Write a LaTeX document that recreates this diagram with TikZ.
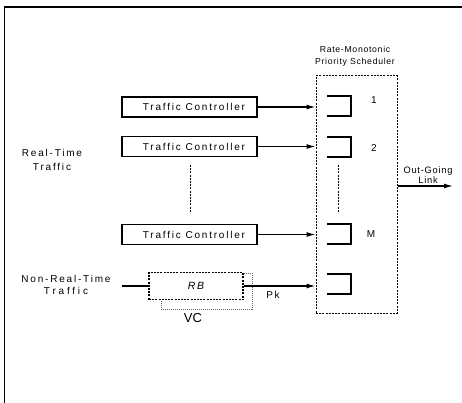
\documentclass[tikz,border=0pt]{standalone}
\usepackage{fontspec}
\setmainfont{Liberation Sans}
\newfontfamily\lsA[LetterSpace=18]{Liberation Sans}
\newfontfamily\lsB[LetterSpace=8]{Liberation Sans}
\newfontfamily\lsC[LetterSpace=28]{Liberation Sans}
\usetikzlibrary{arrows.meta}
\begin{document}
\begin{tikzpicture}[x=1pt,y=-1pt,
  tcbox/.style={draw, line width=1.3pt, minimum width=135pt, minimum height=20pt, inner sep=0pt, font=\fontsize{10}{12}\lsA},
  arr/.style={line width=1.2pt, -{Latex[length=9pt,width=5pt]}},
  qline/.style={line width=1.3pt},
  dsh/.style={line width=1pt, dash pattern=on 2pt off 1.2pt},
  lbl/.style={inner sep=0pt, align=center},
]
\useasboundingbox (0,0) rectangle (462,403);
% frame
\draw[line width=1.4pt] (4.5,403) -- (4.5,7) -- (462,7);

% scheduler
\node[draw, dsh, minimum width=81pt, minimum height=237pt, inner sep=0pt] (sched) at (356.5,194.5) {};
\node[lbl, font=\fontsize{8.7}{12}\lsB] (title) at (355,56) {Rate-Monotonic\\Priority Scheduler};

% queues
\draw[qline] (327,96) -- (351,96) -- (351,116) -- (327,116);
\draw[qline] (327,137) -- (351,137) -- (351,157) -- (327,157);
\draw[qline] (327,224) -- (351,224) -- (351,244) -- (327,244);
\draw[qline] (327,274) -- (351,274) -- (351,294) -- (327,294);
\node[lbl, font=\fontsize{10}{12}\selectfont] (n1) at (374,100) {1};
\node[lbl, font=\fontsize{10}{12}\selectfont] (n2) at (374,148) {2};
\node[lbl, font=\fontsize{10}{12}\selectfont] (nM) at (371,234) {M};
\draw[dsh, line width=0.9pt] (338,165) -- (338,213);

% traffic controllers
\node[tcbox] (tc1) at (189.5,107) {\hspace*{9pt}Traffic Controller};
\node[tcbox] (tc2) at (189.5,146.5) {\hspace*{9pt}Traffic Controller};
\node[tcbox] (tcM) at (189.5,234.5) {\hspace*{9pt}Traffic Controller};
\draw[dsh, line width=0.9pt] (190,165) -- (190,213);

\draw[arr] (tc1.east) -- (sched.west |- tc1.east);
\draw[arr] (tc2.east) -- (sched.west |- tc2.east);
\draw[arr] (tcM.east) -- (sched.west |- tcM.east);

\node[lbl, font=\fontsize{10}{13.5}\lsA] (rt) at (52,160) {Real-Time\\Traffic};

% non-real-time
\node[draw, line width=0.7pt, dash pattern=on 1pt off 1pt, gray!80!black, minimum width=91pt, minimum height=36pt, inner sep=0pt] (vc) at (206.5,291) {};
\node[draw, dsh, line width=1.1pt, fill=white, minimum width=94pt, minimum height=27pt, inner sep=0pt, font=\fontsize{10.5}{12}\itshape\lsA] (rb) at (196,286) {RB};
\node[lbl, font=\fontsize{13}{14}\selectfont] (vcl) at (193,318) {VC};
\node[lbl, font=\fontsize{10}{12}\lsA] (nrt) at (66,285) {Non-Real-Time\\{\lsC Traffic}};
\coordinate (nin) at (122,286);
\draw[line width=1.2pt] (nin) -- (rb.west);
\draw[arr] (rb.east) -- (sched.west |- rb.east);
\node[lbl, font=\fontsize{10}{12}\lsA] (pk) at (273,295) {Pk};

% output
\coordinate (out) at (453,186);
\draw[arr] (sched.east |- out) -- (out);
\node[lbl, font=\fontsize{9.3}{9.5}\lsB] (outl) at (428,175) {Out-Going\\Link};
\end{tikzpicture}
\end{document}
